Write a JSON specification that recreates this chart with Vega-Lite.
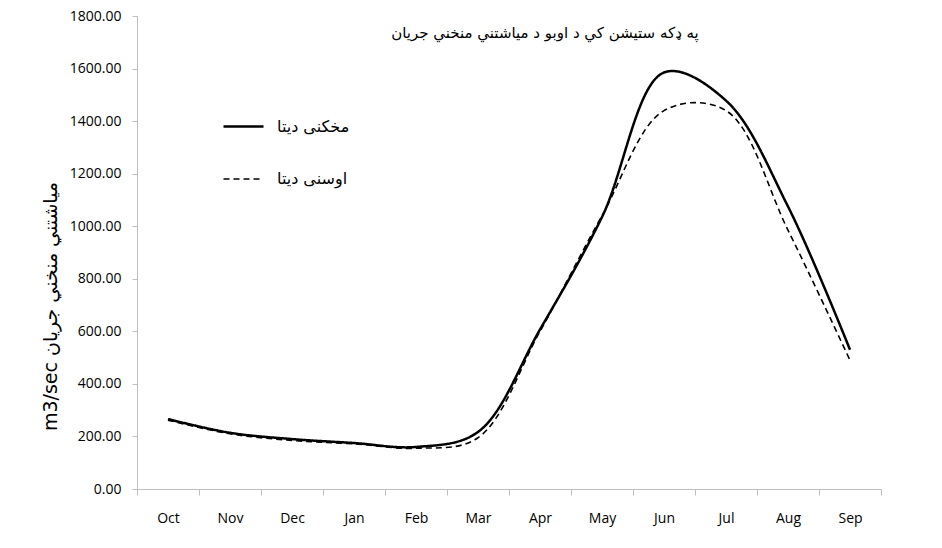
{
  "$schema": "https://vega.github.io/schema/vega-lite/v6.json",
  "autosize": "none",
  "width": 744,
  "height": 473,
  "padding": {"left": 137, "top": 16, "right": 61, "bottom": 59},
  "background": "white",
  "title": {
    "text": "په ډکه ستيشن کي د اوبو د مياشتني منخني جريان",
    "fontSize": 15,
    "fontWeight": "normal",
    "font": "DejaVu Sans",
    "color": "black",
    "anchor": "middle",
    "dx": 36,
    "offset": -32,
    "baseline": "top"
  },
  "data": {
    "values": [
      {"month": "Oct", "series": "مخکنی دیتا", "value": 266},
      {"month": "Nov", "series": "مخکنی دیتا", "value": 214},
      {"month": "Dec", "series": "مخکنی دیتا", "value": 190},
      {"month": "Jan", "series": "مخکنی دیتا", "value": 175},
      {"month": "Feb", "series": "مخکنی دیتا", "value": 160},
      {"month": "Mar", "series": "مخکنی دیتا", "value": 217},
      {"month": "Apr", "series": "مخکنی دیتا", "value": 607},
      {"month": "May", "series": "مخکنی دیتا", "value": 1035},
      {"month": "Jun", "series": "مخکنی دیتا", "value": 1585},
      {"month": "Jul", "series": "مخکنی دیتا", "value": 1478},
      {"month": "Aug", "series": "مخکنی دیتا", "value": 1075},
      {"month": "Sep", "series": "مخکنی دیتا", "value": 530},
      {"month": "Oct", "series": "اوسنی دیتا", "value": 262},
      {"month": "Nov", "series": "اوسنی دیتا", "value": 210},
      {"month": "Dec", "series": "اوسنی دیتا", "value": 185},
      {"month": "Jan", "series": "اوسنی دیتا", "value": 172},
      {"month": "Feb", "series": "اوسنی دیتا", "value": 155},
      {"month": "Mar", "series": "اوسنی دیتا", "value": 195},
      {"month": "Apr", "series": "اوسنی دیتا", "value": 600},
      {"month": "May", "series": "اوسنی دیتا", "value": 1040},
      {"month": "Jun", "series": "اوسنی دیتا", "value": 1440},
      {"month": "Jul", "series": "اوسنی دیتا", "value": 1440},
      {"month": "Aug", "series": "اوسنی دیتا", "value": 985},
      {"month": "Sep", "series": "اوسنی دیتا", "value": 490}
    ]
  },
  "mark": {"type": "line", "interpolate": "catmull-rom", "color": "black"},
  "encoding": {
    "x": {
      "field": "month",
      "type": "ordinal",
      "bandPosition": 0.5,
      "sort": ["Oct","Nov","Dec","Jan","Feb","Mar","Apr","May","Jun","Jul","Aug","Sep"],
      "scale": {"type": "band", "paddingInner": 0, "paddingOuter": 0},
      "axis": {
        "title": null,
        "tickBand": "extent",
        "labelAngle": 0,
        "labelFontSize": 14,
        "labelFont": "Open Sans",
        "labelColor": "black",
        "labelPadding": 16,
        "tickSize": 6,
        "tickColor": "#bfbfbf",
        "domainColor": "#bfbfbf",
        "grid": false
      }
    },
    "y": {
      "field": "value",
      "type": "quantitative",
      "scale": {"domain": [0, 1800], "nice": false},
      "axis": {
        "title": "m3/sec  مياشتني منخني جريان",
        "titleFont": "DejaVu Sans",
        "titleFontSize": 19,
        "titleFontWeight": "normal",
        "titleColor": "black",
        "titleY": 290,
        "titleX": -87,
        "titleAlign": "center",
        "titleBaseline": "middle",
        "titleAngle": -90,
        "values": [0,200,400,600,800,1000,1200,1400,1600,1800],
        "format": ".2f",
        "labelFontSize": 14,
        "labelFont": "Open Sans",
        "labelColor": "black",
        "labelPadding": 11,
        "tickSize": 5,
        "tickColor": "#bfbfbf",
        "domainColor": "#bfbfbf",
        "grid": false
      }
    },
    "strokeDash": {
      "field": "series",
      "type": "nominal",
      "scale": {"domain": ["مخکنی دیتا", "اوسنی دیتا"], "range": [[1, 0], [6, 4]]},
      "legend": {
        "orient": "none",
        "legendX": 85,
        "legendY": 89,
        "title": null,
        "symbolType": "stroke",
        "symbolSize": 1600,
        "symbolStrokeColor": "black",
        "symbolStrokeWidth": 2,
        "labelFontSize": 16,
        "labelFont": "DejaVu Sans",
        "labelColor": "black",
        "labelOffset": 12,
        "rowPadding": 23
      }
    },
    "strokeWidth": {
      "field": "series",
      "type": "nominal",
      "scale": {"domain": ["مخکنی دیتا", "اوسنی دیتا"], "range": [2.5, 1.6]},
      "legend": null
    }
  },
  "config": {"view": {"stroke": null}}
}
